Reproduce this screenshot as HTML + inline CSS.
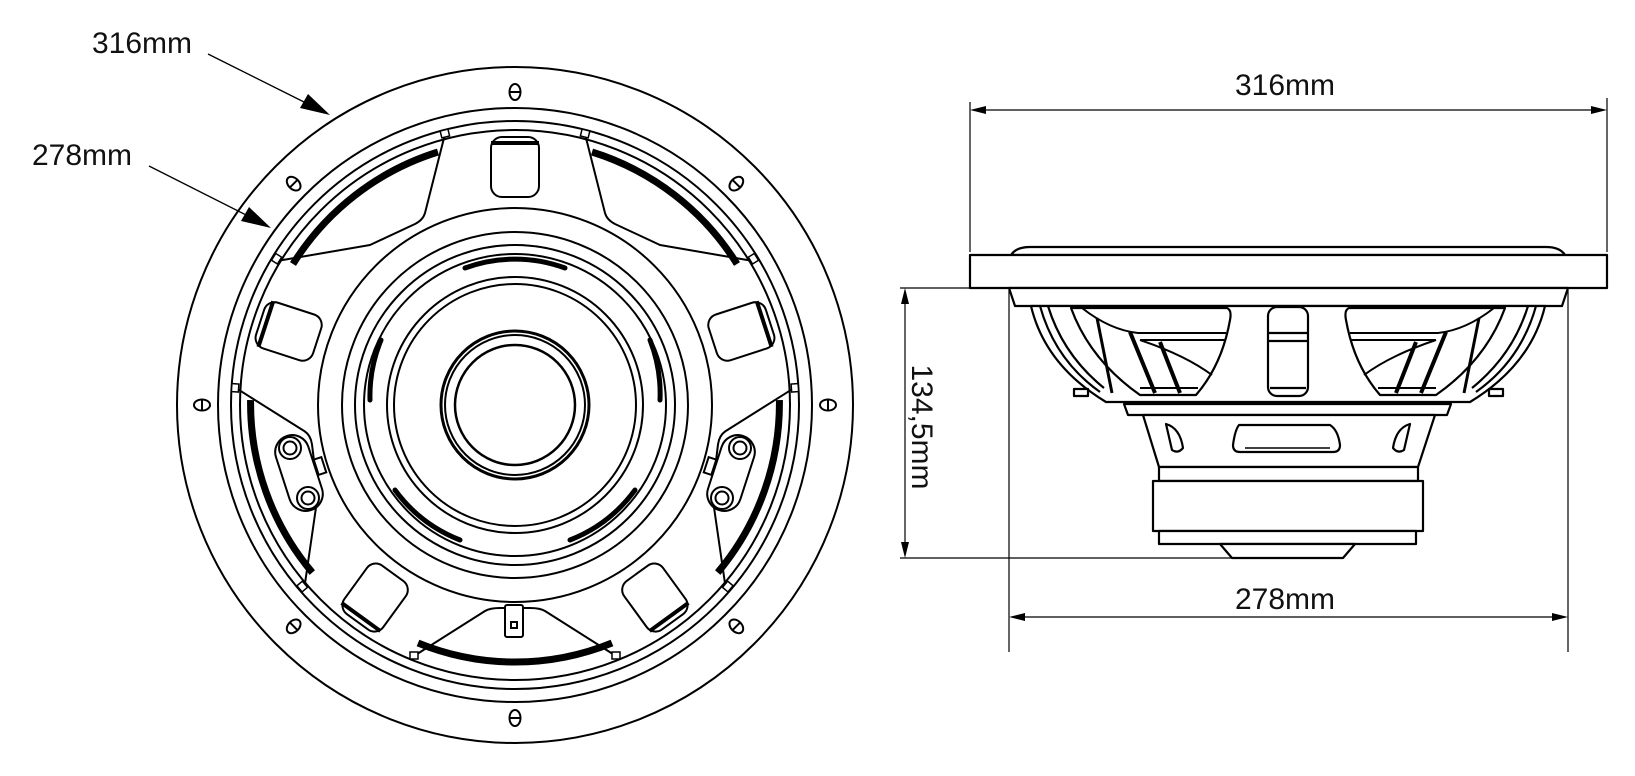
<!DOCTYPE html>
<html><head><meta charset="utf-8"><style>
html,body{margin:0;padding:0;background:#fff;}
svg{display:block;}
text{font-family:"Liberation Sans",sans-serif;fill:#111;}
</style></head><body>
<svg width="1635" height="776" viewBox="0 0 1635 776" xmlns="http://www.w3.org/2000/svg">
<defs>
<g id="hole"><ellipse cx="0" cy="0" rx="5.5" ry="8" fill="#fff" stroke="#000" stroke-width="2"/><line x1="-5.5" y1="0" x2="5.5" y2="0" stroke="#000" stroke-width="2"/></g>
<g id="win">
<path d="M70,-271 L90,-192 Q92,-185 100,-181 L145,-160 L238,-144" fill="none" stroke="#000" stroke-width="2" stroke-linejoin="round"/>
<path d="M77,-253 A263,263 0 0 1 222,-141" fill="none" stroke="#000" stroke-width="7"/>
<rect x="66" y="-275" width="8" height="7" fill="#fff" stroke="#000" stroke-width="1.5" transform="rotate(14 70 -271)"/>
<rect x="234" y="-150" width="8" height="7" fill="#fff" stroke="#000" stroke-width="1.5" transform="rotate(58 238 -146)"/>
</g>
<g id="pad">
<rect x="-24" y="-268" width="48" height="60" rx="11" fill="#fff" stroke="#000" stroke-width="2"/>
<line x1="-24" y1="-262" x2="24" y2="-262" stroke="#000" stroke-width="4"/>
</g>
</defs>

<!-- LEFT FRONT VIEW -->
<g fill="none" stroke="#000" stroke-width="2">
<circle cx="515" cy="405" r="338"/>
<circle cx="515" cy="405" r="297"/>
<circle cx="515" cy="405" r="284"/>
<circle cx="515" cy="405" r="275"/>
</g>
<g transform="translate(515,405)">
<use href="#win"/>
<use href="#win" transform="scale(-1,1)"/>
<use href="#win" transform="rotate(72)"/>
<use href="#win" transform="scale(-1,1) rotate(72)"/>
<!-- bottom window -->
<path d="M-101,251 L-30,206 Q-25,203 -15,203 L15,203 Q25,203 30,206 L101,251" fill="none" stroke="#000" stroke-width="2" stroke-linejoin="round"/>
<path d="M-97,238 A257,257 0 0 0 97,238" fill="none" stroke="#000" stroke-width="7"/>
<rect x="-105" y="247" width="8" height="7" fill="#fff" stroke="#000" stroke-width="1.5"/>
<rect x="97" y="247" width="8" height="7" fill="#fff" stroke="#000" stroke-width="1.5"/>
<use href="#pad"/>
<use href="#pad" transform="rotate(72)"/>
<use href="#pad" transform="rotate(144)"/>
<use href="#pad" transform="rotate(216)"/>
<use href="#pad" transform="rotate(288)"/>
</g>
<!-- terminals -->
<g fill="#fff" stroke="#000" stroke-width="2">
<rect x="282" y="434" width="34" height="78" rx="17" transform="rotate(-18 299 473)"/>
<rect x="714" y="434" width="34" height="78" rx="17" transform="rotate(18 731 473)"/>
<circle cx="290" cy="448" r="11"/><circle cx="290" cy="448" r="6.5"/>
<circle cx="308" cy="498" r="11"/><circle cx="308" cy="498" r="6.5"/>
<circle cx="740" cy="448" r="11"/><circle cx="740" cy="448" r="6.5"/>
<circle cx="722" cy="498" r="11"/><circle cx="722" cy="498" r="6.5"/>
<rect x="316" y="458" width="8" height="16" transform="rotate(-18 320 466)"/>
<rect x="706" y="458" width="8" height="16" transform="rotate(18 710 466)"/>
<rect x="505" y="605" width="18" height="32" rx="2"/>
<rect x="511" y="622" width="6" height="6"/>
</g>
<!-- inner rings -->
<g fill="none" stroke="#000" stroke-width="2">
<circle cx="515" cy="405" r="197"/>
<circle cx="515" cy="405" r="173"/>
<circle cx="515" cy="405" r="160"/>
<circle cx="515" cy="405" r="151"/>
<circle cx="515" cy="405" r="128"/>
<circle cx="515" cy="405" r="121"/>
<circle cx="515" cy="405" r="74" stroke-width="3"/>
<circle cx="515" cy="405" r="70"/>
<circle cx="515" cy="405" r="60" stroke-width="2.5"/>
</g>
<!-- crescents -->
<g fill="none" stroke="#000" stroke-width="5" stroke-linecap="round">
<path d="M465,268 A145,145 0 0 1 565,268"/>
<path d="M381,340 A147,147 0 0 0 370,400"/>
<path d="M650,340 A147,147 0 0 1 660,400"/>
<path d="M395,490 A147,147 0 0 0 460,540"/>
<path d="M635,490 A147,147 0 0 1 570,540"/>
</g>
<!-- mounting holes -->
<g transform="translate(515,405)">
<use href="#hole" transform="rotate(0) translate(0,-313)"/>
<use href="#hole" transform="rotate(45) translate(0,-313)"/>
<use href="#hole" transform="rotate(90) translate(0,-313)"/>
<use href="#hole" transform="rotate(135) translate(0,-313)"/>
<use href="#hole" transform="rotate(180) translate(0,-313)"/>
<use href="#hole" transform="rotate(225) translate(0,-313)"/>
<use href="#hole" transform="rotate(270) translate(0,-313)"/>
<use href="#hole" transform="rotate(315) translate(0,-313)"/>
</g>
<!-- leaders -->
<g stroke="#000" stroke-width="1.3">
<line x1="208" y1="54" x2="312" y2="106"/>
<line x1="149" y1="166" x2="256" y2="220"/>
</g>
<polygon points="330,115 300,108 308,94" fill="#000"/>
<polygon points="271,228 241,221 249,207" fill="#000"/>
<text x="92" y="53" font-size="30">316mm</text>
<text x="32" y="165" font-size="30">278mm</text>

<!-- RIGHT SIDE VIEW -->
<g stroke="#000" stroke-width="1.2" fill="none">
<line x1="970" y1="102" x2="970" y2="252"/>
<line x1="1607" y1="98" x2="1607" y2="252"/>
<line x1="975" y1="110" x2="1602" y2="110"/>
<line x1="1009" y1="290" x2="1009" y2="652"/>
<line x1="1568" y1="290" x2="1568" y2="652"/>
<line x1="1014" y1="617" x2="1563" y2="617"/>
<line x1="900" y1="288" x2="970" y2="288"/>
<line x1="900" y1="558" x2="1343" y2="558"/>
<line x1="905" y1="293" x2="905" y2="553"/>
</g>
<g fill="#000">
<polygon points="970,110 986,106 986,114"/>
<polygon points="1607,110 1591,106 1591,114"/>
<polygon points="1009,617 1025,613 1025,621"/>
<polygon points="1568,617 1552,613 1552,621"/>
<polygon points="905,288 901,304 909,304"/>
<polygon points="905,558 901,542 909,542"/>
</g>
<text x="1285" y="95" font-size="30" text-anchor="middle">316mm</text>
<text x="1285" y="609" font-size="30" text-anchor="middle">278mm</text>
<text transform="translate(912,427) rotate(90)" font-size="30" text-anchor="middle">134,5mm</text>

<g fill="#fff" stroke="#000" stroke-width="2.2" stroke-linejoin="round">
<path d="M1011,255 Q1016,247 1030,247 L1546,247 Q1560,247 1565,255 Z"/>
<rect x="970" y="255" width="637" height="33"/>
<path d="M1009,288 L1568,288 L1562,306 L1015,306 Z"/>
<path d="M1031,306 Q1045,365 1106,402 L1470,402 Q1531,365 1545,306 Z"/>
<path d="M1040,306 Q1055,360 1100,392" fill="none"/>
<path d="M1536,306 Q1521,360 1476,392" fill="none"/>
<path d="M1048,306 Q1063,355 1104,388" fill="none"/>
<path d="M1528,306 Q1513,355 1472,388" fill="none"/>
<rect x="1074" y="389" width="14" height="7"/>
<rect x="1489" y="389" width="14" height="7"/>
<path d="M1071,308 L1227,308 Q1232,310 1230,320 Q1222,365 1196,395 L1140,395 Q1090,360 1071,308 Z"/>
<path d="M1505,308 L1349,308 Q1344,310 1346,320 Q1354,365 1380,395 L1436,395 Q1486,360 1505,308 Z"/>
<rect x="1268" y="307" width="40" height="89" rx="9"/>
<line x1="1268" y1="333" x2="1308" y2="333"/>
<line x1="1268" y1="341" x2="1308" y2="341"/>
<line x1="1270" y1="388" x2="1306" y2="388"/>
</g>
<g fill="none" stroke="#000" stroke-width="2">
<path d="M1082,308 Q1110,330 1138,333 L1226,333"/>
<line x1="1140" y1="340" x2="1226" y2="340"/>
<path d="M1140,340 Q1185,355 1212,375"/>
<path d="M1097,318 L1112,393" stroke-width="3"/>
<path d="M1130,332 L1155,393" stroke-width="4"/>
<path d="M1160,342 L1180,393" stroke-width="4"/>
<line x1="1140" y1="388" x2="1198" y2="388"/>
<path d="M1494,308 Q1466,330 1438,333 L1350,333"/>
<line x1="1436" y1="340" x2="1350" y2="340"/>
<path d="M1436,340 Q1391,355 1364,375"/>
<path d="M1479,318 L1464,393" stroke-width="3"/>
<path d="M1446,332 L1421,393" stroke-width="4"/>
<path d="M1416,342 L1396,393" stroke-width="4"/>
<line x1="1436" y1="388" x2="1378" y2="388"/>
</g>
<g fill="#fff" stroke="#000" stroke-width="2.2" stroke-linejoin="round">
<path d="M1124,404 L1451,404 L1447,415 L1128,415 Z"/>
<path d="M1143,415 L1435,415 L1418,467 L1159,467 Z"/>
<path d="M1239,425 L1330,425 Q1338,430 1340,445 Q1340,452 1333,452 L1240,452 Q1233,452 1233,445 Q1235,430 1239,425 Z"/>
<line x1="1245" y1="448" x2="1330" y2="448" stroke-width="1.5"/>
<path d="M1166,424 Q1180,428 1183,448 Q1178,454 1172,450 Z"/>
<path d="M1410,424 Q1396,428 1393,448 Q1398,454 1404,450 Z"/>
<rect x="1159" y="467" width="259" height="14"/>
<rect x="1153" y="481" width="270" height="50"/>
<rect x="1159" y="531" width="257" height="13"/>
<path d="M1220,544 L1355,544 L1343,558 L1232,558 Z"/>
</g>
</svg>
</body></html>
